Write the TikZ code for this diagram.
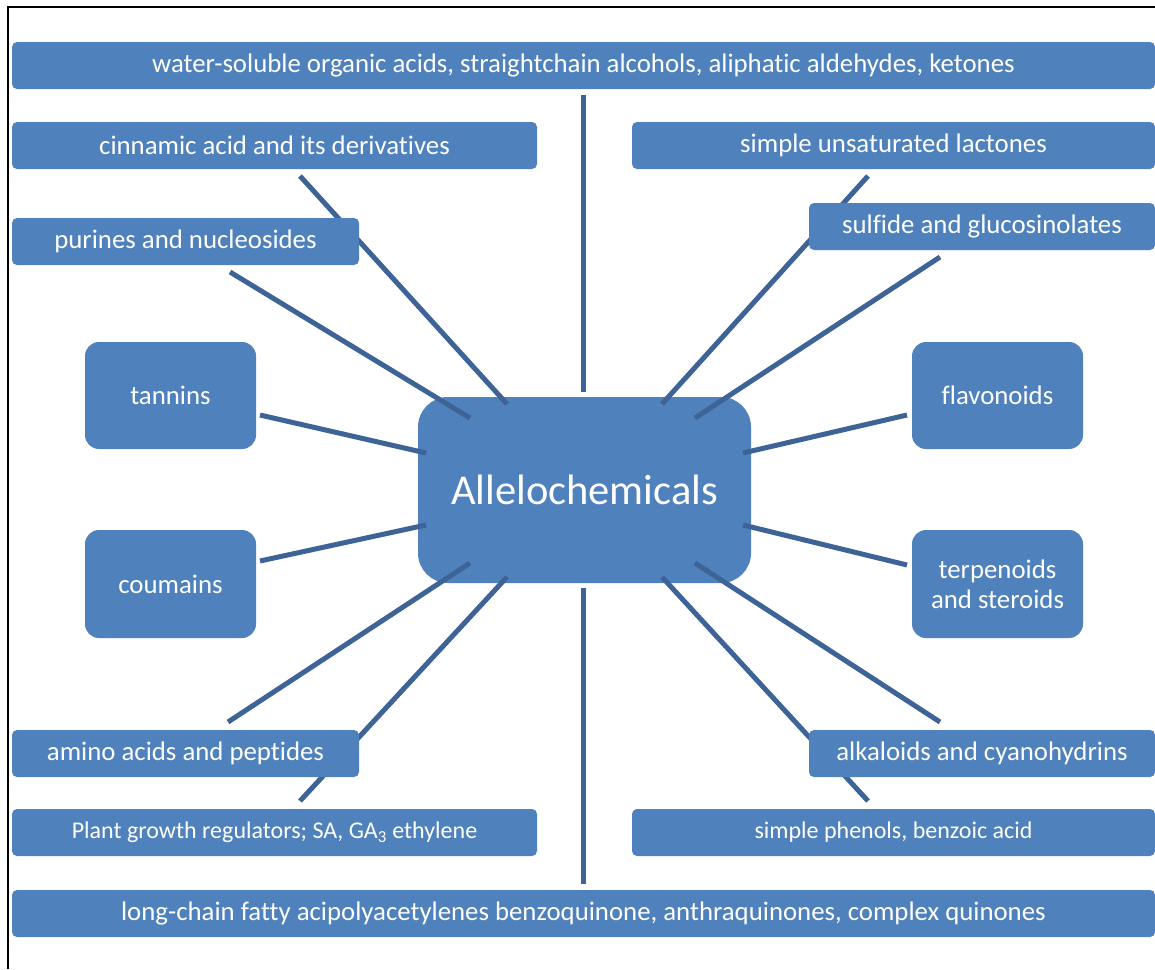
\documentclass[tikz,border=0pt]{standalone}
\usepackage{fontspec}
\setmainfont{Carlito}[Ligatures=NoCommon]
\definecolor{boxblue}{HTML}{4F81BD}
\definecolor{linec}{HTML}{3E6497}
\begin{document}
\begin{tikzpicture}[x=1pt,y=-1pt,
  box/.style={fill=boxblue, draw=none, rounded corners=5pt, text=white, align=center, inner sep=0pt},
  bigtxt/.style={font=\fontsize{26.8}{30}\selectfont},
  smalltxt/.style={font=\fontsize{24}{28}\selectfont},
  conn/.style={draw=linec, line width=5pt}]
\useasboundingbox (0,0) rectangle (1155,969);
\fill[white] (0,0) rectangle (1155,969);
\draw[black, line width=2pt] (8,969) -- (8,7) -- (1155,7);
% central box (drawn under the connectors)
\node[box, rounded corners=30pt, minimum width=333pt, minimum height=186pt, font=\fontsize{42.5}{50}\selectfont] (center) at (584.5,490)
  {Allelochemicals};
% connector end points
\coordinate (vt1) at (583,95);   \coordinate (vt2) at (583,392);
\coordinate (vb1) at (583,588);  \coordinate (vb2) at (583,884);
\coordinate (cin1) at (300,176); \coordinate (cin2) at (507,404);
\coordinate (pur1) at (230,272); \coordinate (pur2) at (470,418);
\coordinate (tan1) at (260,415); \coordinate (tan2) at (426,453);
\coordinate (cou1) at (260,561); \coordinate (cou2) at (426,525);
\coordinate (ami1) at (228,722); \coordinate (ami2) at (470,563);
\coordinate (pgr1) at (300,801); \coordinate (pgr2) at (507,577);
\coordinate (lac1) at (868,176); \coordinate (lac2) at (662,404);
\coordinate (sul1) at (940,257); \coordinate (sul2) at (695,418);
\coordinate (fla1) at (907,415); \coordinate (fla2) at (743,453);
\coordinate (ter1) at (907,565); \coordinate (ter2) at (743,525);
\coordinate (alk1) at (940,722); \coordinate (alk2) at (695,563);
\coordinate (phe1) at (868,801); \coordinate (phe2) at (662,577);
\foreach \n in {vt,vb,cin,pur,tan,cou,ami,pgr,lac,sul,fla,ter,alk,phe}
  \draw[conn] (\n1) -- (\n2);
% outer boxes
\node[box, bigtxt, minimum width=1143pt, minimum height=47pt] (top) at (583.5,65.5)
  {water-soluble organic acids, straightchain alcohols, aliphatic aldehydes, ketones};
\node[box, bigtxt, minimum width=525pt, minimum height=47pt] (cin) at (274.5,145.5)
  {cinnamic acid and its derivatives};
\node[box, bigtxt, minimum width=523pt, minimum height=47pt] (lac) at (893.5,145.5)
  {simple unsaturated lactones};
\node[box, bigtxt, minimum width=347pt, minimum height=47pt] (pur) at (185.5,241.5)
  {purines and nucleosides};
\node[box, bigtxt, minimum width=346pt, minimum height=47pt] (sul) at (982,226.5)
  {sulfide and glucosinolates};
\node[box, bigtxt, rounded corners=14pt, minimum width=171pt, minimum height=107pt] (tan) at (170.5,395.5)
  {tannins};
\node[box, bigtxt, rounded corners=14pt, minimum width=171pt, minimum height=107pt] (fla) at (997.5,395.5)
  {flavonoids};
\node[box, bigtxt, rounded corners=14pt, minimum width=171pt, minimum height=108pt] (cou) at (170.5,584)
  {coumains};
\node[box, bigtxt, rounded corners=14pt, minimum width=171pt, minimum height=108pt] (ter) at (997.5,584)
  {terpenoids\\and steroids};
\node[box, bigtxt, minimum width=347pt, minimum height=47pt] (ami) at (185.5,753.5)
  {amino acids and peptides};
\node[box, bigtxt, minimum width=346pt, minimum height=47pt] (alk) at (982,753.5)
  {alkaloids and cyanohydrins};
\node[box, smalltxt, minimum width=525pt, minimum height=47pt] (pgr) at (274.5,832.5)
  {Plant growth regulators; SA, GA\textsubscript{3} ethylene};
\node[box, smalltxt, minimum width=523pt, minimum height=47pt] (phe) at (893.5,832.5)
  {simple phenols, benzoic acid};
\node[box, bigtxt, minimum width=1143pt, minimum height=47pt] (bot) at (583.5,913.5)
  {long-chain fatty acipolyacetylenes benzoquinone, anthraquinones, complex quinones};
\end{tikzpicture}
\end{document}
